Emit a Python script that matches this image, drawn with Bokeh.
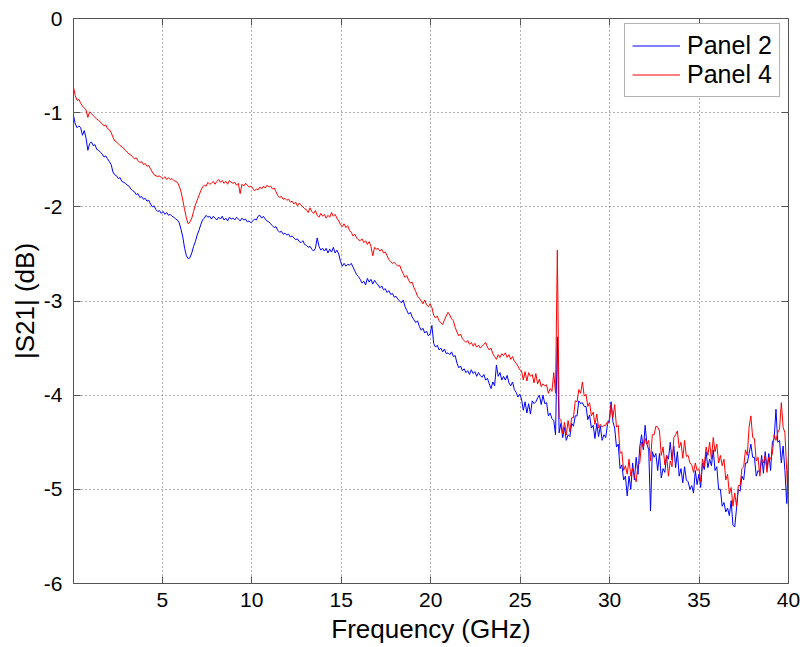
import numpy as np
from bokeh.plotting import figure
from bokeh.models import LinearAxis, FixedTicker, Legend, LegendItem, Range1d
from bokeh.embed import file_html
from bokeh.resources import INLINE

f_start = 0.04
f_stop = 40.0
x_ticks = [5, 10, 15, 20, 25, 30, 35, 40]
y_ticks = [-6, -5, -4, -3, -2, -1, 0]
y_tick_labels = {-6: "-6", -5: "-5", -4: "-4", -3: "-3", -2: "-2", -1: "-1", 0: "0"}

panel2 = [
-1.03,-1.12,-1.16,-1.14,-1.16,-1.24,-1.19,-1.27,-1.40,-1.33,
-1.31,-1.35,-1.34,-1.39,-1.40,-1.42,-1.44,-1.47,-1.46,-1.49,
-1.52,-1.55,-1.63,-1.66,-1.67,-1.70,-1.69,-1.73,-1.74,-1.75,
-1.77,-1.78,-1.81,-1.83,-1.84,-1.87,-1.86,-1.90,-1.89,-1.92,
-1.91,-1.94,-1.93,-1.97,-2.00,-1.99,-2.03,-2.05,-2.04,-2.07,
-2.05,-2.08,-2.06,-2.09,-2.08,-2.10,-2.11,-2.13,-2.14,-2.17,
-2.24,-2.32,-2.44,-2.52,-2.55,-2.54,-2.49,-2.42,-2.37,-2.30,
-2.25,-2.19,-2.14,-2.12,-2.09,-2.11,-2.10,-2.13,-2.10,-2.12,
-2.14,-2.11,-2.13,-2.10,-2.14,-2.12,-2.15,-2.11,-2.13,-2.12,
-2.14,-2.11,-2.13,-2.15,-2.12,-2.14,-2.13,-2.16,-2.15,-2.17,
-2.15,-2.13,-2.14,-2.10,-2.09,-2.12,-2.10,-2.13,-2.15,-2.16,
-2.18,-2.20,-2.22,-2.21,-2.25,-2.27,-2.26,-2.29,-2.28,-2.30,
-2.29,-2.32,-2.31,-2.33,-2.35,-2.34,-2.37,-2.38,-2.36,-2.40,
-2.41,-2.43,-2.42,-2.45,-2.47,-2.44,-2.33,-2.42,-2.46,-2.44,
-2.47,-2.44,-2.49,-2.45,-2.48,-2.43,-2.49,-2.46,-2.50,-2.58,
-2.63,-2.60,-2.63,-2.61,-2.62,-2.60,-2.64,-2.68,-2.72,-2.74,
-2.77,-2.81,-2.79,-2.83,-2.76,-2.80,-2.77,-2.82,-2.78,-2.81,
-2.83,-2.86,-2.84,-2.88,-2.87,-2.91,-2.89,-2.93,-2.92,-2.96,
-2.95,-2.98,-3.00,-3.02,-2.99,-3.06,-3.10,-3.14,-3.12,-3.17,
-3.20,-3.23,-3.21,-3.27,-3.31,-3.29,-3.34,-3.32,-3.37,-3.35,
-3.26,-3.45,-3.49,-3.47,-3.52,-3.50,-3.54,-3.51,-3.56,-3.55,
-3.57,-3.54,-3.59,-3.58,-3.66,-3.71,-3.69,-3.74,-3.72,-3.76,
-3.74,-3.78,-3.73,-3.77,-3.75,-3.80,-3.76,-3.79,-3.81,-3.78,
-3.84,-3.82,-3.88,-3.93,-3.86,-3.90,-3.68,-3.80,-3.76,-3.84,
-3.80,-3.84,-3.79,-3.87,-3.90,-3.86,-3.94,-3.97,-4.02,-3.99,
-4.04,-4.16,-4.07,-4.19,-4.09,-4.20,-4.06,-4.09,-4.07,-4.03,
-4.00,-4.10,-4.00,-4.09,-4.08,-4.22,-4.19,-4.25,-4.27,-4.42,
-3.38,-4.40,-4.30,-4.45,-4.34,-4.48,-4.42,-4.44,-4.30,-4.33,
-4.22,-4.22,-4.06,-4.09,-4.08,-4.12,-4.12,-4.26,-4.21,-4.35,
-4.32,-4.46,-4.30,-4.44,-4.33,-4.48,-4.42,-4.45,-4.31,-4.26,
-4.07,-4.28,-4.35,-4.55,-4.52,-4.78,-4.74,-4.90,-4.86,-5.07,
-4.86,-5.00,-4.72,-4.90,-4.66,-4.84,-4.55,-4.42,-4.58,-4.32,
-4.52,-4.58,-5.23,-4.60,-4.66,-4.62,-4.80,-4.62,-4.88,-4.78,
-4.82,-4.64,-4.68,-4.50,-4.69,-4.54,-4.77,-4.60,-4.86,-4.78,
-4.93,-4.76,-4.90,-4.92,-5.00,-4.96,-5.04,-4.80,-4.95,-4.84,
-4.98,-4.72,-4.79,-4.60,-4.77,-4.68,-4.75,-4.58,-4.80,-4.76,
-5.00,-5.00,-5.18,-5.14,-5.24,-5.20,-5.28,-5.12,-5.38,-5.40,
-5.20,-5.00,-5.02,-4.86,-4.90,-4.72,-4.72,-4.62,-4.52,-4.66,
-4.66,-4.86,-4.80,-4.82,-4.64,-4.83,-4.60,-4.78,-4.62,-4.80,
-4.50,-4.46,-4.15,-4.50,-4.48,-4.72,-4.54,-4.80,-5.15,-4.64,
]

panel4 = [
-0.73,-0.82,-0.87,-0.86,-0.90,-0.93,-0.95,-0.97,-1.05,-0.99,
-1.01,-1.03,-1.05,-1.07,-1.08,-1.10,-1.12,-1.14,-1.13,-1.17,
-1.18,-1.21,-1.26,-1.30,-1.31,-1.33,-1.35,-1.36,-1.38,-1.40,
-1.42,-1.44,-1.45,-1.47,-1.49,-1.48,-1.51,-1.53,-1.52,-1.55,
-1.54,-1.57,-1.56,-1.60,-1.63,-1.66,-1.67,-1.68,-1.67,-1.69,
-1.70,-1.68,-1.71,-1.69,-1.71,-1.70,-1.72,-1.73,-1.74,-1.78,
-1.84,-1.93,-2.03,-2.12,-2.18,-2.16,-2.12,-2.05,-1.98,-1.93,
-1.88,-1.83,-1.79,-1.77,-1.78,-1.74,-1.76,-1.75,-1.73,-1.76,
-1.73,-1.71,-1.74,-1.72,-1.75,-1.73,-1.76,-1.72,-1.74,-1.75,
-1.74,-1.77,-1.75,-1.86,-1.76,-1.78,-1.75,-1.77,-1.79,-1.78,
-1.80,-1.83,-1.81,-1.82,-1.79,-1.81,-1.78,-1.80,-1.77,-1.79,
-1.78,-1.81,-1.80,-1.84,-1.88,-1.90,-1.89,-1.92,-1.91,-1.93,
-1.92,-1.95,-1.94,-1.97,-1.95,-1.99,-1.96,-1.98,-2.00,-2.02,
-2.03,-2.06,-2.01,-2.05,-2.07,-2.04,-2.09,-2.11,-2.07,-2.10,
-2.08,-2.12,-2.09,-2.11,-2.06,-2.10,-2.08,-2.12,-2.15,-2.19,
-2.21,-2.18,-2.22,-2.20,-2.25,-2.27,-2.31,-2.29,-2.33,-2.35,
-2.36,-2.34,-2.38,-2.36,-2.40,-2.37,-2.42,-2.52,-2.43,-2.45,
-2.44,-2.47,-2.45,-2.49,-2.48,-2.52,-2.56,-2.58,-2.60,-2.59,
-2.61,-2.63,-2.62,-2.67,-2.71,-2.75,-2.73,-2.78,-2.81,-2.80,
-2.86,-2.90,-2.95,-2.97,-3.00,-3.03,-2.99,-3.04,-3.06,-3.03,
-3.07,-3.15,-3.18,-3.16,-3.21,-3.23,-3.25,-3.20,-3.16,-3.12,
-3.15,-3.19,-3.21,-3.28,-3.33,-3.37,-3.35,-3.40,-3.42,-3.44,
-3.42,-3.46,-3.44,-3.48,-3.45,-3.49,-3.47,-3.50,-3.48,-3.46,
-3.44,-3.49,-3.52,-3.50,-3.56,-3.59,-3.62,-3.57,-3.60,-3.56,
-3.58,-3.55,-3.60,-3.57,-3.62,-3.59,-3.64,-3.66,-3.69,-3.73,
-3.74,-3.84,-3.75,-3.85,-3.76,-3.80,-3.78,-3.87,-3.77,-3.88,
-3.83,-3.91,-3.88,-3.90,-3.89,-3.98,-3.93,-3.96,-3.76,-3.98,
-2.46,-4.24,-4.26,-4.41,-4.29,-4.42,-4.27,-4.39,-4.24,-4.24,
-4.06,-4.07,-3.94,-3.98,-3.86,-4.01,-3.99,-4.12,-4.08,-4.22,
-4.18,-4.31,-4.20,-4.35,-4.31,-4.34,-4.32,-4.32,-4.28,-4.29,
-4.10,-4.24,-4.10,-4.34,-4.32,-4.62,-4.60,-4.80,-4.75,-4.84,
-4.68,-4.86,-4.78,-4.86,-4.92,-4.74,-4.72,-4.50,-4.56,-4.46,
-4.52,-4.48,-4.70,-4.42,-4.42,-4.33,-4.34,-4.38,-4.64,-4.55,
-4.74,-4.64,-4.86,-4.70,-4.76,-4.45,-4.42,-4.38,-4.56,-4.50,
-4.67,-4.48,-4.65,-4.64,-4.72,-4.74,-4.82,-4.72,-4.80,-4.78,
-4.92,-4.68,-4.76,-4.55,-4.64,-4.50,-4.68,-4.45,-4.60,-4.52,
-4.72,-4.64,-4.75,-4.68,-4.90,-4.84,-5.05,-4.98,-5.18,-5.04,
-5.18,-4.96,-4.96,-4.78,-4.76,-4.58,-4.64,-4.34,-4.22,-4.45,
-4.46,-4.70,-4.66,-4.86,-4.68,-4.72,-4.64,-4.82,-4.66,-4.68,
-4.62,-4.42,-4.48,-4.40,-4.36,-4.08,-4.34,-4.40,-4.80,-5.20,
]

freq2 = np.linspace(f_start, f_stop, len(panel2))
freq4 = np.linspace(f_start, f_stop, len(panel4))

FONT = "Liberation Sans"
AX = "#555555"

p = figure(frame_width=715, frame_height=565,
           x_range=Range1d(f_start, f_stop), y_range=Range1d(-6, 0),
           output_backend="svg", toolbar_location=None,
           min_border_left=73, min_border_right=16,
           min_border_top=18, min_border_bottom=64)
p.background_fill_color = "white"
p.border_fill_color = "white"
p.outline_line_color = AX

p.xaxis.ticker = FixedTicker(ticks=x_ticks)
p.yaxis.ticker = FixedTicker(ticks=y_ticks)
p.yaxis.major_label_overrides = y_tick_labels
p.xgrid.ticker = FixedTicker(ticks=x_ticks)
p.ygrid.ticker = FixedTicker(ticks=y_ticks)

for g in (p.xgrid, p.ygrid):
    g.grid_line_color = "#666666"
    g.grid_line_dash = "1 3"
    g.grid_line_width = 1

p.xaxis.axis_label = "Frequency (GHz)"
p.yaxis.axis_label = "|S21| (dB)"

for ax in (p.xaxis[0], p.yaxis[0]):
    ax.axis_line_color = AX
    ax.major_tick_line_color = AX
    ax.major_tick_in = 7
    ax.major_tick_out = 0
    ax.minor_tick_in = 0
    ax.minor_tick_out = 0
    ax.major_label_text_font = FONT
    ax.major_label_text_font_size = "21px"
    ax.major_label_text_color = "black"
    ax.axis_label_text_font = FONT
    ax.axis_label_text_font_size = "26px"
    ax.axis_label_text_font_style = "normal"
    ax.axis_label_text_color = "black"

p.xaxis.major_label_standoff = 9
p.xaxis.axis_label_standoff = 4
p.yaxis.major_label_standoff = 11
p.yaxis.axis_label_standoff = 1


def frame_axis(ticks):
    return LinearAxis(ticker=FixedTicker(ticks=ticks),
                      major_label_text_font_size="1px",
                      major_label_text_color=None, major_label_text_alpha=0,
                      major_tick_in=7, major_tick_out=0,
                      minor_tick_in=0, minor_tick_out=0,
                      axis_line_color=AX, major_tick_line_color=AX,
                      major_label_standoff=0)


p.add_layout(frame_axis(x_ticks), "above")
p.add_layout(frame_axis(y_ticks), "right")

r2 = p.line(freq2, panel2, line_color="#0000FF", line_width=1)
r4 = p.line(freq4, panel4, line_color="#FF0000", line_width=1)

legend = Legend(items=[LegendItem(label="Panel 2", renderers=[r2]),
                       LegendItem(label="Panel 4", renderers=[r4])],
                location=(551, 486))
legend.label_text_font = FONT
legend.label_text_font_size = "25px"
legend.label_text_color = "black"
legend.glyph_width = 48
legend.glyph_height = 29
legend.label_height = 29
legend.label_standoff = 7
legend.padding = 7
legend.spacing = 0
legend.margin = 0
legend.border_line_color = "#666666"
legend.border_line_width = 1
legend.background_fill_color = "white"
legend.background_fill_alpha = 1.0
p.add_layout(legend)

open("out.html", "w").write(file_html(p, INLINE))
